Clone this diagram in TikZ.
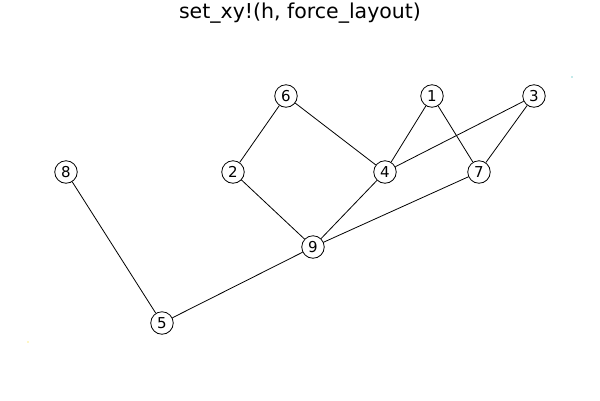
\documentclass[tikz,border=0pt]{standalone}
\usepackage{fontspec}
\setmainfont{DejaVu Sans}
\begin{document}
\begin{tikzpicture}[x=1pt,y=-1pt,
  vertex/.style={draw,circle,minimum size=22.5pt,inner sep=0pt,line width=0.8pt,font=\fontsize{15}{15}\selectfont,fill=white},
  edge/.style={line width=0.8pt}]
\useasboundingbox (0,0) rectangle (600,400);
\node[font=\fontsize{20.5}{20.5}\selectfont] (title) at (300,13) {set\_xy!(h, force\_layout)};
\node[vertex] (n6) at (286,96) {6};
\node[vertex] (n1) at (432,96) {1};
\node[vertex] (n3) at (534,96) {3};
\node[vertex] (n8) at (66,172) {8};
\node[vertex] (n2) at (233,172) {2};
\node[vertex] (n4) at (385,172) {4};
\node[vertex] (n7) at (479,172) {7};
\node[vertex] (n9) at (313,247) {9};
\node[vertex] (n5) at (162,323) {5};
\draw[edge] (n6) -- (n2);
\draw[edge] (n6) -- (n4);
\draw[edge] (n1) -- (n4);
\draw[edge] (n1) -- (n7);
\draw[edge] (n3) -- (n4);
\draw[edge] (n3) -- (n7);
\draw[edge] (n2) -- (n9);
\draw[edge] (n4) -- (n9);
\draw[edge] (n7) -- (n9);
\draw[edge] (n8) -- (n5);
\draw[edge] (n9) -- (n5);
\fill[teal!70!cyan] (572,77) coordinate (dotA) circle (0.7);
\fill[yellow!80!orange] (28,342) coordinate (dotB) circle (0.7);
\end{tikzpicture}
\end{document}
